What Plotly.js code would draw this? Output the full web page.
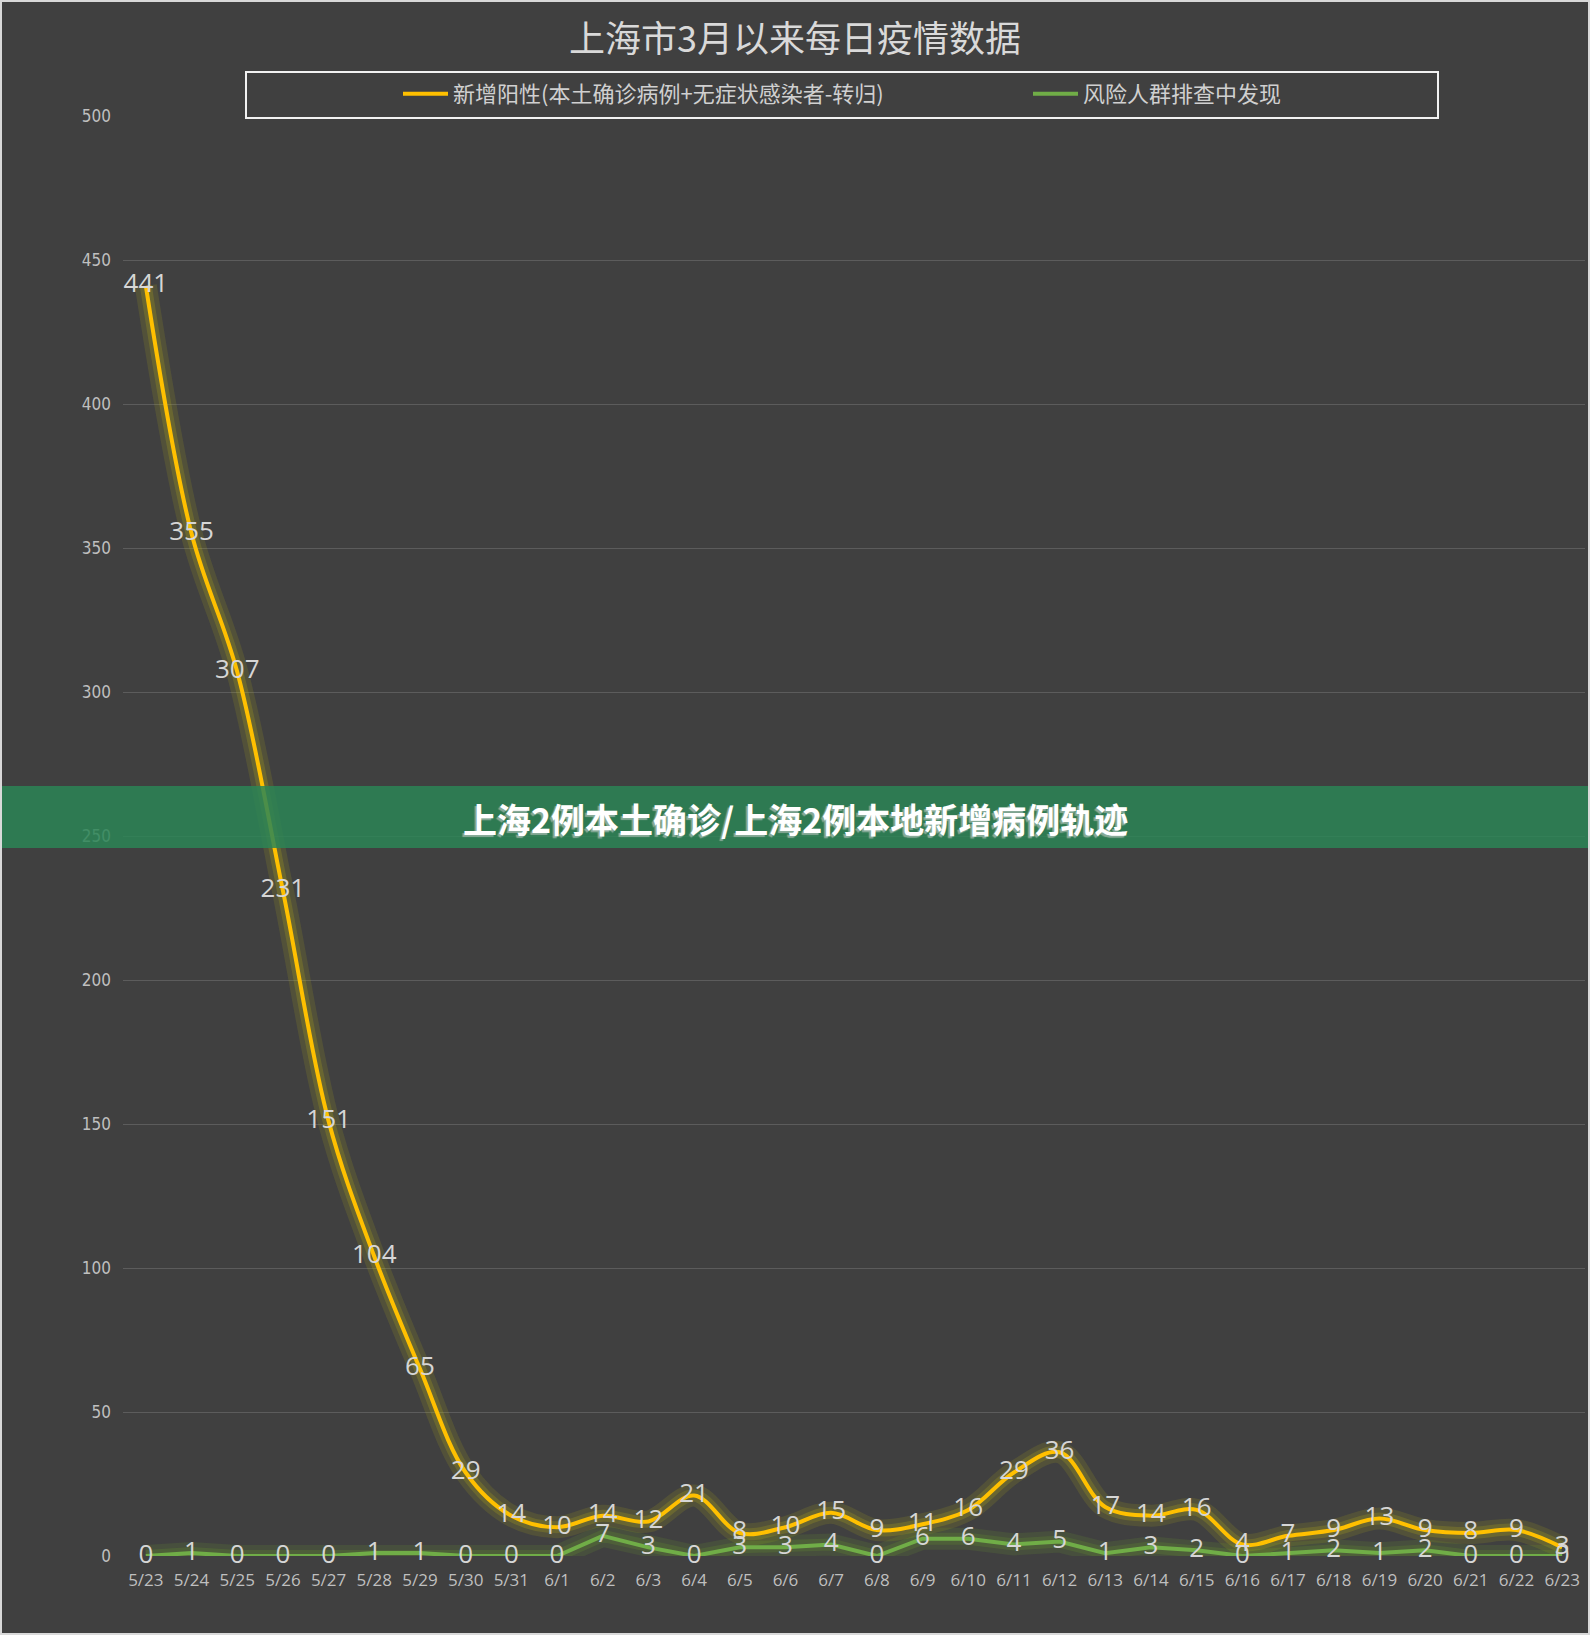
<!DOCTYPE html>
<html>
<head>
<meta charset="utf-8">
<script src="https://cdn.plot.ly/plotly-3.0.1.min.js"></script>
<style>
  html, body { margin: 0; padding: 0; background: #404040; }
  #chart { width: 1590px; height: 1635px; }
</style>
</head>
<body>
<div id="chart"></div>
<script>
// ---- data ----
const dates = ["5/23","5/24","5/25","5/26","5/27","5/28","5/29","5/30","5/31",
  "6/1","6/2","6/3","6/4","6/5","6/6","6/7","6/8","6/9","6/10","6/11","6/12",
  "6/13","6/14","6/15","6/16","6/17","6/18","6/19","6/20","6/21","6/22","6/23"];
const newPositive = [441,355,307,231,151,104,65,29,14,10,14,12,21,8,10,15,9,11,16,29,36,17,14,16,4,7,9,13,9,8,9,3];
const riskScreening = [0,1,0,0,0,1,1,0,0,0,7,3,0,3,3,4,0,6,6,4,5,1,3,2,0,1,2,1,2,0,0,0];
const seriesNames = ["新增阳性(本土确诊病例+无症状感染者-转归)", "风险人群排查中发现"];
const chartTitle = "上海市3月以来每日疫情数据";
const bannerText = "上海2例本土确诊/上海2例本地新增病例轨迹";

// ---- geometry (pixels) ----
const W = 1590, H = 1635;
const L = 123, R = 5, T = 116, B = 79;
const pw = W - L - R, ph = H - T - B;
const px = x => (x - L) / pw;
const py = y => (H - B - y) / ph;

const labelFont = {family: "Open Sans, Noto Sans, sans-serif", size: 26, color: "#d6d6d6"};
const legendFont = {family: "Noto Sans CJK SC, sans-serif", size: 22, color: "#d0d0d0"};

const traces = [
  {x: dates, y: newPositive, type: "scatter", mode: "lines", showlegend: false, hoverinfo: "skip",
   line: {color: "rgba(190,180,20,0.15)", width: 22, shape: "spline", smoothing: 1}},
  {x: dates, y: newPositive, type: "scatter", mode: "lines", showlegend: false, hoverinfo: "skip",
   line: {color: "rgba(200,190,20,0.2)", width: 12, shape: "spline", smoothing: 1}},
  {x: dates, y: riskScreening, type: "scatter", mode: "lines", showlegend: false, hoverinfo: "skip",
   line: {color: "rgba(110,170,40,0.14)", width: 22}},
  {x: dates, y: riskScreening, type: "scatter", mode: "lines", showlegend: false, hoverinfo: "skip",
   line: {color: "rgba(110,170,40,0.18)", width: 12}},
  {x: dates, y: newPositive, name: seriesNames[0], type: "scatter", mode: "lines+text",
   legend: "legend",
   text: newPositive.map(String), textposition: "middle center", textfont: labelFont,
   cliponaxis: false,
   line: {color: "#ffc000", width: 4, shape: "spline", smoothing: 1}},
  {x: dates, y: riskScreening, name: seriesNames[1], type: "scatter", mode: "lines+text",
   legend: "legend2",
   text: riskScreening.map(String), textposition: "middle center", textfont: labelFont,
   cliponaxis: false,
   line: {color: "#70ad47", width: 4}}
];

const legendBase = {
  orientation: "h", xanchor: "left", yanchor: "middle", y: py(94),
  bgcolor: "rgba(0,0,0,0)", borderwidth: 0, font: legendFont, itemwidth: 45
};

const layout = {
  width: W, height: H,
  paper_bgcolor: "#404040", plot_bgcolor: "#404040",
  margin: {l: L, r: R, t: T, b: B, pad: 0},
  title: {
    text: chartTitle,
    font: {family: "Noto Sans CJK SC, sans-serif", size: 36, color: "#d9d9d9"},
    x: px(795), xref: "paper", xanchor: "center",
    y: 1 - 39 / H, yref: "container", yanchor: "middle"
  },
  showlegend: true,
  legend: Object.assign({}, legendBase, {x: px(398)}),
  legend2: Object.assign({}, legendBase, {x: px(1028)}),
  xaxis: {
    type: "category", categoryorder: "array", categoryarray: dates,
    range: [-0.5, dates.length - 0.5],
    showgrid: false, zeroline: false, showline: false, ticks: "",
    ticklabelstandoff: 12,
    tickfont: {family: "Open Sans, Noto Sans, sans-serif", size: 17, color: "#bfbfbf"},
    fixedrange: true
  },
  yaxis: {
    range: [0, 500], dtick: 50, tick0: 0,
    showgrid: true, gridcolor: "#5c5c5c", gridwidth: 1,
    zeroline: false, showline: false, ticks: "",
    ticklabelstandoff: 11,
    tickfont: {family: "Liberation Sans Narrow, DejaVu Sans Condensed, Open Sans, sans-serif", size: 17, color: "#bfbfbf"},
    fixedrange: true
  },
  shapes: [
    {type: "rect", xref: "paper", yref: "paper", layer: "above",
     x0: px(246), x1: px(1438), y0: py(118), y1: py(72),
     line: {color: "#f2f2f2", width: 2}, fillcolor: "rgba(0,0,0,0)"},
    {type: "rect", xref: "paper", yref: "paper", layer: "above",
     x0: px(0), x1: px(W), y0: py(848), y1: py(786),
     line: {width: 0}, fillcolor: "rgb(43,133,86)", opacity: 0.85},
    {type: "rect", xref: "paper", yref: "paper", layer: "above",
     x0: px(1), x1: px(W - 1), y0: py(H - 1), y1: py(1),
     line: {color: "#d9d9d9", width: 2}, fillcolor: "rgba(0,0,0,0)"}
  ],
  annotations: [
    {text: "<b>" + bannerText + "</b>", xref: "paper", yref: "paper",
     x: px(795), y: py(818), xanchor: "center", yanchor: "middle", showarrow: false,
     font: {family: "Noto Sans CJK SC, sans-serif", size: 34, color: "#ffffff",
            shadow: "-2px 2px 1px rgba(210,210,210,0.55)"}}
  ]
};

Plotly.newPlot("chart", traces, layout, {displayModeBar: false, staticPlot: true});
</script>
</body>
</html>
